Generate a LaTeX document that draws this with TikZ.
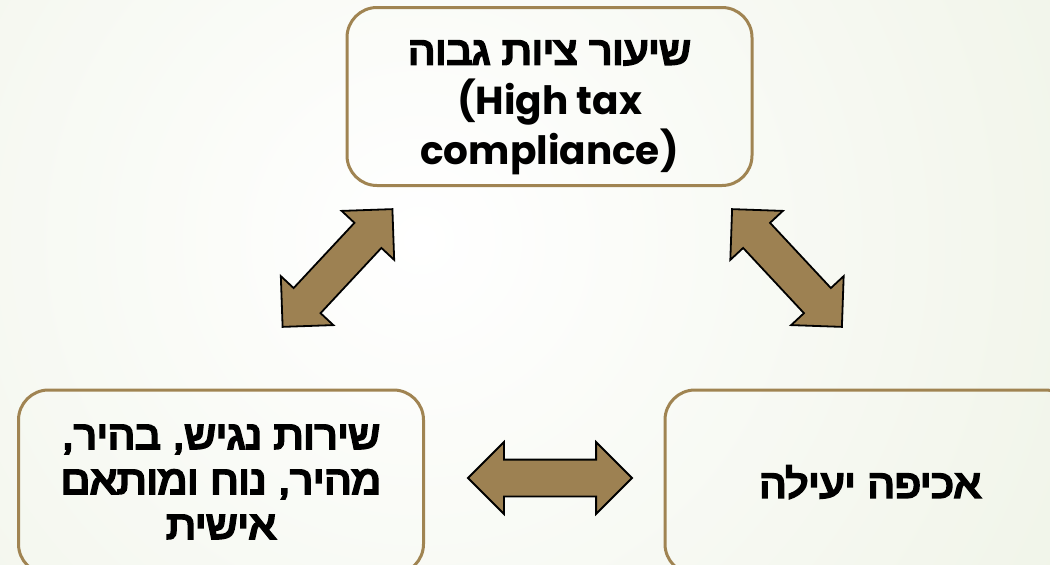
\documentclass[tikz,border=0pt]{standalone}
\usepackage{fontspec}
\usetikzlibrary{shapes.arrows}
\TeXXeTstate=1
\newfontfamily\hebfont[Script=Hebrew,FakeBold=6,FakeStretch=1.1]{Liberation Sans}
\newfontfamily\latfont{Poppins}
\definecolor{boxbrown}{RGB}{160,132,82}
\definecolor{arrowfill}{RGB}{157,129,82}
\definecolor{bgouter}{RGB}{236,241,226}

\begin{document}
\begin{tikzpicture}[x=1pt,y=-1pt,
                    box/.style={draw=boxbrown,line width=3pt,rounded corners=30pt,
                      align=center,minimum width=405pt,
                      font=\fontsize{39}{45}\selectfont},
                    dblarrow/.style={double arrow,draw=black,line width=1.8pt,
                      fill=arrowfill,inner xsep=0pt,inner ysep=17.5pt,
                      double arrow head extend=17.5pt}]

  \useasboundingbox (0,0) rectangle (1050,565);
  \clip (0,0) rectangle (1050,565);
  \shade[inner color=white,outer color=bgouter] (420,240) circle (950);

  \node[box,minimum height=178pt,font=\fontsize{39}{50}\selectfont]
        (tax) at (549.5,96.5)
        {\rule{0pt}{46pt}{\hebfont\beginR שיעור ציות גבוה\endR}\\
         {\latfont\bfseries\fontsize{39}{50}\selectfont (High tax}\\
         {\latfont\bfseries\fontsize{39}{50}\selectfont compliance)}};
  \node[box,minimum height=184pt] (service) at (221,482)
        {{\hebfont\beginR שירות נגיש, בהיר,\endR}\\
         {\hebfont\beginR מהיר, נוח ומותאם\endR}\\
         {\hebfont\beginR אישית\endR}};
  \node[box,minimum width=410pt,minimum height=184pt] (enforce) at (870,482)
        {{\hebfont\beginR אכיפה יעילה\endR}};

  % block arrows between the boxes
  \node[dblarrow,minimum height=161pt,rotate=47]  (ts) at (337.5,268) {};
  \node[dblarrow,minimum height=161pt,rotate=-47] (te) at (787,268) {};
  \node[dblarrow,minimum height=164pt]            (se) at (550,478) {};

\end{tikzpicture}
\end{document}
